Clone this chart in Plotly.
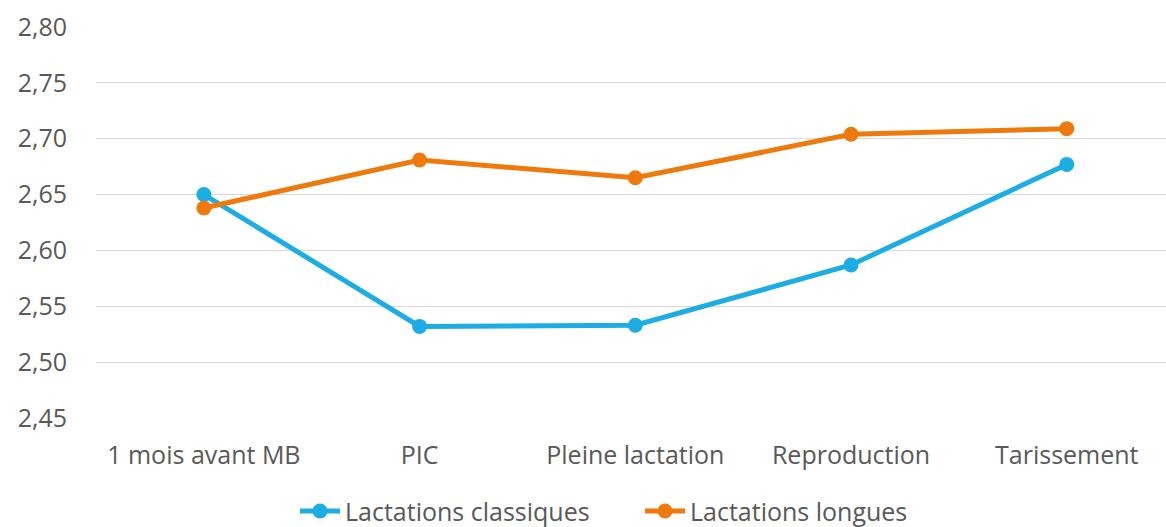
import plotly.graph_objects as go

categories = ["1 mois avant MB", "PIC", "Pleine lactation", "Reproduction", "Tarissement"]
classiques = [2.650, 2.532, 2.533, 2.587, 2.677]
longues = [2.638, 2.681, 2.665, 2.704, 2.709]
y_ticks = [2.45, 2.50, 2.55, 2.60, 2.65, 2.70, 2.75, 2.80]

BLUE = "#1CADE4"
ORANGE = "#EE7A0E"
FONT = "'Open Sans', sans-serif"

fig = go.Figure()
fig.add_trace(go.Scatter(
    x=categories, y=classiques, name="Lactations classiques",
    mode="lines+markers", line=dict(color=BLUE, width=5),
    marker=dict(size=15, color=BLUE),
))
fig.add_trace(go.Scatter(
    x=categories, y=longues, name="Lactations longues",
    mode="lines+markers", line=dict(color=ORANGE, width=5),
    marker=dict(size=15, color=ORANGE),
))

fig.update_layout(
    width=1166, height=527,
    separators=", ",
    paper_bgcolor="white", plot_bgcolor="white",
    font=dict(family=FONT, size=25, color="#595959"),
    margin=dict(l=96, r=0, t=27, b=109, autoexpand=False),
    xaxis=dict(
        type="category", range=[-0.5, 4.46], automargin=False,
        showgrid=False, showline=False, zeroline=False,
        ticks="", ticklabelstandoff=20,
    ),
    yaxis=dict(
        range=[2.45, 2.80], tickvals=y_ticks, tickformat=".2f",
        automargin=False,
        showgrid=True, gridcolor="#D9D9D9", gridwidth=1,
        zeroline=False, showline=False, ticks="",
        ticklabelstandoff=28,
    ),
    legend=dict(
        orientation="h", xanchor="left", x=0.253, xref="container",
        yanchor="middle", y=0.03, yref="container",
        font=dict(size=25), itemwidth=40, entrywidth=290,
    ),
    showlegend=True,
)

# drop the default page margin so the figure sits at the window's corner
fig.write_html("out.html", config={"displayModeBar": False},
               post_script="document.body.style.margin='0';")
